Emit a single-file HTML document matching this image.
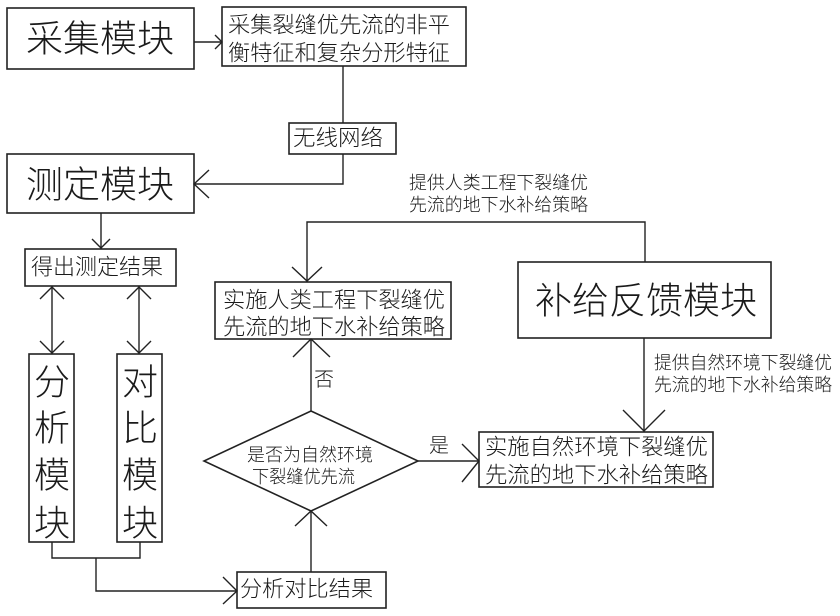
<!DOCTYPE html>
<html><head><meta charset="utf-8">
<style>
html,body{margin:0;padding:0;background:#fff;}
svg{display:block;}
text{font-family:"Liberation Sans","Noto Sans CJK SC",sans-serif;fill:#1a1a1a;font-weight:300;}
</style></head>
<body>
<svg width="840" height="616" viewBox="0 0 840 616" xmlns="http://www.w3.org/2000/svg">
<g fill="none" stroke="#222" stroke-width="1.6">
  <rect x="7" y="8" width="187" height="61"/>
  <rect x="222" y="7" width="244" height="59"/>
  <rect x="289" y="123" width="107" height="31"/>
  <rect x="7" y="154" width="187" height="59"/>
  <rect x="25" y="249" width="151" height="37"/>
  <rect x="29" y="354" width="45" height="188"/>
  <rect x="117" y="354" width="45" height="188"/>
  <rect x="237" y="572" width="149" height="36"/>
  <rect x="215" y="282" width="236" height="57"/>
  <rect x="518" y="262" width="253" height="76"/>
  <rect x="479" y="432" width="234" height="55"/>
  <polygon points="311,411 418,461 311,511 204,461"/>
</g>
<g fill="none" stroke="#222" stroke-width="1.4">
  <line x1="194" y1="42" x2="222" y2="42"/>
  <polyline points="215,35 222,42 215,49"/>
  <line x1="343" y1="66" x2="343" y2="123"/>
  <polyline points="343,154 343,184 194,184"/>
  <polyline points="209,170 194,184 209,198"/>
  <line x1="101" y1="213" x2="101" y2="249"/>
  <polyline points="92,239 101,248 110,239"/>
  <line x1="52" y1="286" x2="52" y2="354"/>
  <polyline points="40,299 52,287 64,299"/>
  <polyline points="40,341 52,353 64,341"/>
  <line x1="139" y1="286" x2="139" y2="354"/>
  <polyline points="127,299 139,287 151,299"/>
  <polyline points="127,341 139,353 151,341"/>
  <polyline points="52,542 52,558 140,558 140,542"/>
  <polyline points="96,558 96,591 237,591"/>
  <polyline points="223,577 237,591 223,604"/>
  <line x1="311" y1="572" x2="311" y2="511"/>
  <polyline points="295,526 311,511 327,526"/>
  <line x1="311" y1="411" x2="311" y2="339"/>
  <polyline points="293,357 311,339 330,357"/>
  <line x1="418" y1="461" x2="479" y2="461"/>
  <polyline points="462,444 479,461 462,482"/>
  <polyline points="645,262 645,222 307,222 307,282"/>
  <polyline points="292,267 307,281 322,267"/>
  <line x1="644" y1="338" x2="644" y2="432"/>
  <polyline points="623,410 644,431 665,410"/>
</g>

<text x="100" y="39" font-size="37" text-anchor="middle" dominant-baseline="central" textLength="148" lengthAdjust="spacingAndGlyphs">采集模块</text>
<text x="228" y="25" font-size="22" dominant-baseline="central" textLength="222" lengthAdjust="spacingAndGlyphs">采集裂缝优先流的非平</text>
<text x="228" y="53" font-size="22" dominant-baseline="central" textLength="222" lengthAdjust="spacingAndGlyphs">衡特征和复杂分形特征</text>
<text x="293" y="138" font-size="22" dominant-baseline="central" textLength="90" lengthAdjust="spacingAndGlyphs">无线网络</text>
<text x="100" y="185" font-size="37" text-anchor="middle" dominant-baseline="central" textLength="148" lengthAdjust="spacingAndGlyphs">测定模块</text>
<text x="31" y="267" font-size="22" dominant-baseline="central" textLength="132" lengthAdjust="spacingAndGlyphs">得出测定结果</text>

<g font-size="36" text-anchor="middle" dominant-baseline="central">
  <text x="52" y="382">分</text>
  <text x="52" y="428">析</text>
  <text x="52" y="475">模</text>
  <text x="52" y="523">块</text>
  <text x="140" y="382">对</text>
  <text x="140" y="428">比</text>
  <text x="140" y="475">模</text>
  <text x="140" y="523">块</text>
</g>

<text x="240" y="589" font-size="22" dominant-baseline="central" textLength="133" lengthAdjust="spacingAndGlyphs">分析对比结果</text>

<text x="223" y="300" font-size="22" dominant-baseline="central" textLength="222" lengthAdjust="spacingAndGlyphs">实施人类工程下裂缝优</text>
<text x="223" y="327" font-size="22" dominant-baseline="central" textLength="222" lengthAdjust="spacingAndGlyphs">先流的地下水补给策略</text>

<text x="324" y="380" font-size="20" text-anchor="middle" dominant-baseline="central">否</text>
<text x="439" y="446" font-size="20" text-anchor="middle" dominant-baseline="central">是</text>

<text x="247" y="455" font-size="18" dominant-baseline="central" textLength="126" lengthAdjust="spacingAndGlyphs">是否为自然环境</text>
<text x="252" y="477" font-size="18" dominant-baseline="central" textLength="103" lengthAdjust="spacingAndGlyphs">下裂缝优先流</text>

<text x="409" y="183" font-size="18" dominant-baseline="central" textLength="179" lengthAdjust="spacingAndGlyphs">提供人类工程下裂缝优</text>
<text x="409" y="205" font-size="18" dominant-baseline="central" textLength="179" lengthAdjust="spacingAndGlyphs">先流的地下水补给策略</text>

<text x="646" y="301" font-size="37" text-anchor="middle" dominant-baseline="central" textLength="222" lengthAdjust="spacingAndGlyphs">补给反馈模块</text>

<text x="654" y="363" font-size="18" dominant-baseline="central" textLength="178" lengthAdjust="spacingAndGlyphs">提供自然环境下裂缝优</text>
<text x="654" y="385" font-size="18" dominant-baseline="central" textLength="178" lengthAdjust="spacingAndGlyphs">先流的地下水补给策略</text>

<text x="485" y="447" font-size="22" dominant-baseline="central" textLength="223" lengthAdjust="spacingAndGlyphs">实施自然环境下裂缝优</text>
<text x="485" y="475" font-size="22" dominant-baseline="central" textLength="223" lengthAdjust="spacingAndGlyphs">先流的地下水补给策略</text>
</svg>
</body></html>
